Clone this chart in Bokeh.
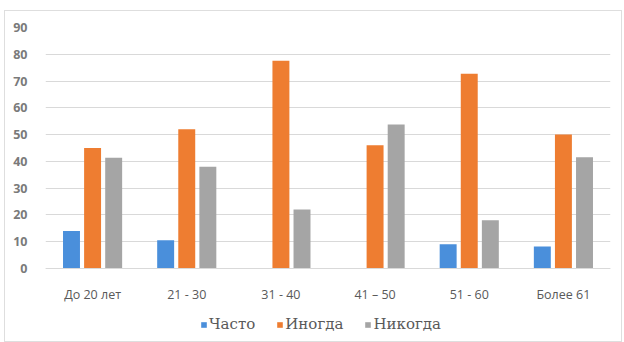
from bokeh.plotting import figure
from bokeh.models import ColumnDataSource, FactorRange, Legend, LegendItem, Range1d, FixedTicker
from bokeh.transform import dodge
from bokeh.embed import file_html
from bokeh.resources import INLINE

# Age groups and answer frequencies (%)
categories = ["До 20 лет", "21 - 30", "31 - 40", "41 – 50", "51 - 60", "Более 61"]
often = [14, 10.5, 0, 0, 9, 8.2]
sometimes = [45, 52, 77.6, 46, 72.7, 50]
never = [41.3, 38, 22, 53.8, 18, 41.5]
series_names = ["Часто", "Иногда", "Никогда"]
y_ticks = [0, 10, 20, 30, 40, 50, 60, 70, 80, 90]

colors = ["#4A8FDB", "#EE7D31", "#A5A5A5"]

source = ColumnDataSource(dict(cat=categories, often=often, sometimes=sometimes, never=never))

# The frame reaches down to the legend; the value axis only shows 0..90
p = figure(
    width=618, height=332,
    x_range=FactorRange(*categories, range_padding=0),
    y_range=Range1d(-25.8, 90),
    output_backend="svg", toolbar_location=None, tools="",
    min_border_left=40, min_border_right=13, min_border_top=16, min_border_bottom=6,
)
# thin light frame around the whole chart
p.margin = (10, 0, 0, 4)
p.styles = {"border": "1px solid #dedede"}

p.outline_line_color = None
p.background_fill_color = "white"
p.border_fill_color = "white"

renderers = []
for field, offset, color in zip(["often", "sometimes", "never"], [-0.224, 0, 0.224], colors):
    r = p.vbar(x=dodge("cat", offset, range=p.x_range), top=field, width=0.18,
               source=source, fill_color=color, line_color=None)
    renderers.append(r)

p.yaxis.ticker = FixedTicker(ticks=y_ticks)
p.yaxis.axis_line_color = None
p.yaxis.major_tick_line_color = None
p.yaxis.minor_tick_line_color = None
p.yaxis.major_label_text_font = "Open Sans"
p.yaxis.major_label_text_font_size = "12.5px"
p.yaxis.major_label_text_font_style = "bold"
p.yaxis.major_label_text_color = "#7a7a7a"
p.yaxis.major_label_standoff = 12

p.xaxis.fixed_location = 0
p.xaxis.axis_line_color = "#d9d9d9"
p.xaxis.major_tick_line_color = None
p.xaxis.minor_tick_line_color = None
p.xaxis.major_label_text_font = "Open Sans"
p.xaxis.major_label_text_font_size = "12.5px"
p.xaxis.major_label_text_color = "#595959"
p.xaxis.major_label_standoff = 12

p.xgrid.grid_line_color = None
p.ygrid.grid_line_color = "#d9d9d9"
p.ygrid.ticker = FixedTicker(ticks=y_ticks)

# Legend under the category labels, offset from the frame's lower-left corner
legend = Legend(
    items=[LegendItem(label=n, renderers=[r]) for n, r in zip(series_names, renderers)],
    orientation="horizontal", location=(155, 4),
    label_text_font="DejaVu Serif", label_text_font_size="15px",
    label_text_color="#595959", glyph_width=7, glyph_height=7,
    label_standoff=2, spacing=21, padding=0, margin=0,
    border_line_color=None, background_fill_alpha=0,
)
p.add_layout(legend, "center")

open("out.html", "w").write(file_html(p, INLINE))
